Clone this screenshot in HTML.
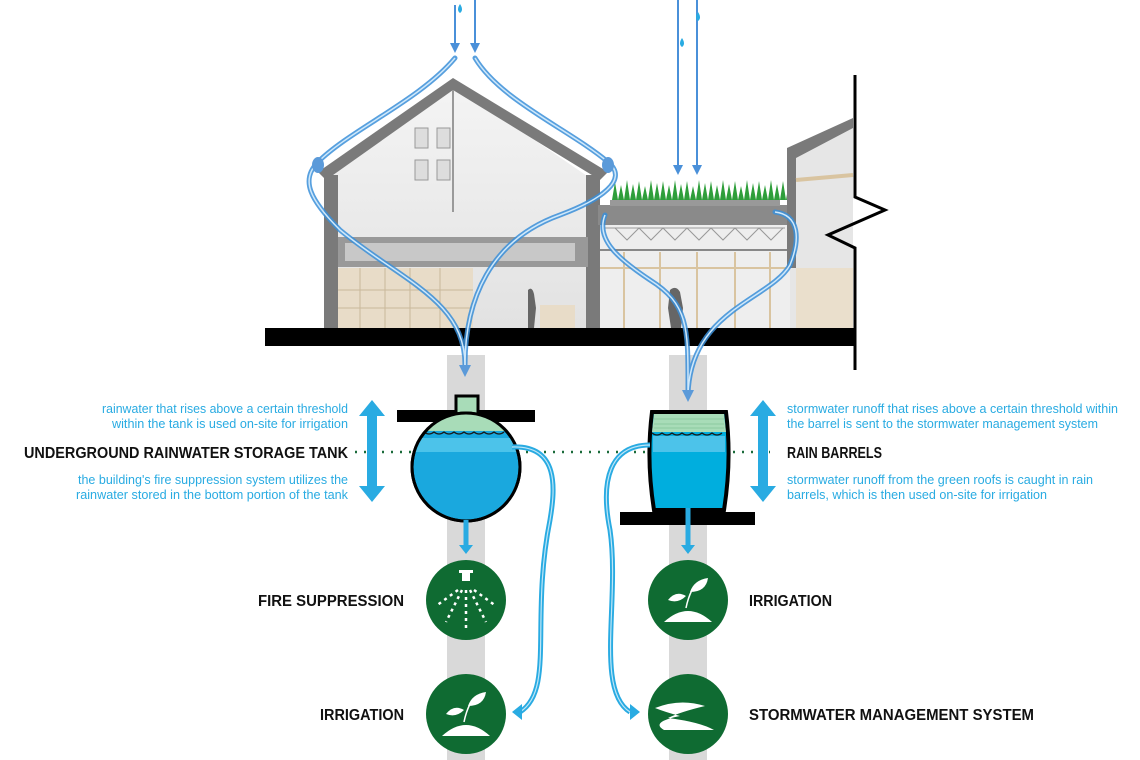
<!DOCTYPE html>
<html><head><meta charset="utf-8"><style>
html,body{margin:0;padding:0;background:#fff}
svg{display:block}
.s{font-family:"Liberation Sans",sans-serif;fill:#29abe2;font-size:13px}
.h{font-family:"Liberation Sans",sans-serif;fill:#111;font-size:16px;font-weight:bold}
</style></head><body>
<svg width="1140" height="760" viewBox="0 0 1140 760" xmlns="http://www.w3.org/2000/svg">
<defs>
<linearGradient id="bg" x1="0" y1="0" x2="0" y2="1"><stop offset="0" stop-color="#f4f4f4"/><stop offset="1" stop-color="#e2e2e2"/></linearGradient>
<marker id="ah" markerUnits="userSpaceOnUse" markerWidth="10" markerHeight="10" refX="5" refY="5" orient="auto"><path d="M0,0 L10,5 L0,10 Z" fill="#4a90d9"/></marker>
</defs>
<rect x="447" y="355" width="38" height="405" fill="#d9d9d9"/>
<rect x="669" y="355" width="38" height="405" fill="#d9d9d9"/>

<path d="M325,178 L453,84 L590,178 L590,328 L325,328 Z" fill="url(#bg)"/>
<path d="M318,172 L453,78 L608,172 L600,180 L453,90 L326,180 Z" fill="#7a7a7a"/>
<rect x="324" y="175" width="14" height="153" fill="#7a7a7a"/>
<rect x="586" y="175" width="14" height="153" fill="#7a7a7a"/>
<line x1="453" y1="90" x2="453" y2="212" stroke="#9a9a9a" stroke-width="2"/>
<g fill="#ddd" stroke="#999"><rect x="415" y="128" width="13" height="20"/><rect x="437" y="128" width="13" height="20"/><rect x="415" y="160" width="13" height="20"/><rect x="437" y="160" width="13" height="20"/></g>
<rect x="338" y="237" width="250" height="30" fill="#999"/>
<rect x="345" y="243" width="230" height="18" fill="#c8c8c8"/>
<rect x="338" y="268" width="135" height="60" fill="#e8dcc8"/>
<g stroke="#c9b89a" stroke-width="1"><line x1="360" y1="268" x2="360" y2="328"/><line x1="385" y1="268" x2="385" y2="328"/><line x1="410" y1="268" x2="410" y2="328"/><line x1="440" y1="268" x2="440" y2="328"/><line x1="338" y1="290" x2="473" y2="290"/><line x1="338" y1="308" x2="473" y2="308"/></g>
<path d="M528,290 q4,-4 6,4 l2,14 l-2,20 h-6 z" fill="#666"/>
<rect x="540" y="305" width="35" height="23" fill="#e8dcc8"/>

<rect x="600" y="220" width="190" height="108" fill="#eeeeee"/>
<rect x="598" y="205" width="192" height="20" fill="#8a8a8a"/>
<rect x="610" y="200" width="170" height="6" fill="#999"/>
<path d="M612,200 l3,-18 l3,18 l3,-15 l3,15 l3,-20 l3,20 l3,-16 l3,16 l3,-19 l3,19 l3,-14 l3,14 l3,-20 l3,20 l3,-17 l3,17 l3,-19 l3,19 l3,-15 l3,15 l3,-20 l3,20 l3,-16 l3,16 l3,-19 l3,19 l3,-14 l3,14 l3,-20 l3,20 l3,-17 l3,17 l3,-19 l3,19 l3,-15 l3,15 l3,-20 l3,20 l3,-16 l3,16 l3,-19 l3,19 l3,-14 l3,14 l3,-20 l3,20 l3,-17 l3,17 l3,-19 l3,19 l3,-15 l3,15 l3,-20 l3,20 l3,-16 l3,16 l3,-19 l3,19 l3,-18 l3,18 z" fill="#2e9e3a"/>
<path d="M605,228 L785,228 M615,228 l12,12 l12,-12 l12,12 l12,-12 l12,12 l12,-12 l12,12 l12,-12 l12,12 l12,-12 l12,12 l12,-12 l12,12 l12,-12" stroke="#999" fill="none"/>
<line x1="600" y1="250" x2="790" y2="250" stroke="#888" stroke-width="2"/>
<g stroke="#d9c4a0" stroke-width="2"><line x1="624" y1="252" x2="624" y2="328"/><line x1="660" y1="252" x2="660" y2="328"/><line x1="697" y1="252" x2="697" y2="328"/><line x1="735" y1="252" x2="735" y2="328"/><line x1="770" y1="252" x2="770" y2="328"/><line x1="600" y1="268" x2="790" y2="268"/></g>
<path d="M670,290 q6,-5 10,2 l3,16 l-2,20 h-10 l-3,-20 z" fill="#666"/>

<path d="M790,150 L853,128 L853,328 L790,328 Z" fill="#e6e6e6"/>
<path d="M787,148 L853,118 L853,128 L796,158 L796,268 L787,268 Z" fill="#7a7a7a"/>
<rect x="796" y="268" width="57" height="60" fill="#eadfcc"/>
<line x1="796" y1="180" x2="853" y2="175" stroke="#d9c4a0" stroke-width="4"/>

<rect x="265" y="328" width="590" height="18" fill="#000"/>
<path d="M855,75 L855,197 L885,210 L828,235 L855,248 L855,370" fill="none" stroke="#000" stroke-width="3"/>

<g stroke="#4a90d9" stroke-width="2" fill="none">
<line x1="455" y1="5" x2="455" y2="48" marker-end="url(#ah)"/>
<line x1="475" y1="0" x2="475" y2="48" marker-end="url(#ah)"/>
<line x1="678" y1="0" x2="678" y2="170" marker-end="url(#ah)"/>
<line x1="697" y1="0" x2="697" y2="170" marker-end="url(#ah)"/>
</g>
<g fill="#29abe2"><path d="M460,4 q4,6 0,9 q-4,-3 0,-9z"/><path d="M682,38 q4,6 0,9 q-4,-3 0,-9z"/><path d="M698,12 q4,6 0,9 q-4,-3 0,-9z"/></g>

<g stroke="#3a8fd9" stroke-width="5" fill="none" stroke-linecap="round" opacity="0.85">
<path d="M455,58 C420,100 350,130 318,162 C300,180 310,200 340,230 C400,280 465,300 465,365"/>
<path d="M475,58 C500,100 570,130 608,162 C630,180 600,200 560,215 C490,240 465,300 465,365"/>
<path d="M605,215 C595,240 620,260 650,280 C690,305 688,330 688,395"/>
<path d="M775,212 C800,215 800,240 790,265 C770,300 690,310 688,395"/>
</g>
<g stroke="#cfe8fa" stroke-width="1.5" fill="none">
<path d="M455,58 C420,100 350,130 318,162 C300,180 310,200 340,230 C400,280 465,300 465,365"/>
<path d="M475,58 C500,100 570,130 608,162 C630,180 600,200 560,215 C490,240 465,300 465,365"/>
<path d="M605,215 C595,240 620,260 650,280 C690,305 688,330 688,395"/>
<path d="M775,212 C800,215 800,240 790,265 C770,300 690,310 688,395"/>
</g>
<ellipse cx="318" cy="165" rx="6" ry="8" fill="#5b9ad9"/>
<ellipse cx="608" cy="165" rx="6" ry="8" fill="#5b9ad9"/>
<path d="M459,365 h12 l-6,12 z" fill="#5b9ad9"/>
<path d="M682,390 h12 l-6,12 z" fill="#5b9ad9"/>

<line x1="355" y1="452" x2="770" y2="452" stroke="#1a6b3a" stroke-width="2.5" stroke-dasharray="2,7"/>

<rect x="397" y="410" width="138" height="12" fill="#000"/>
<rect x="456" y="396" width="22" height="20" fill="#a8dcb8" stroke="#000" stroke-width="3"/>
<circle cx="466" cy="467" r="54" fill="#1aa8de" stroke="#000" stroke-width="3"/>
<path d="M426,431 A54,54 0 0 1 506,431 Z" fill="#a8dcb8"/>
<path d="M424,432 q5,4 10,0 q5,4 10,0 q5,4 10,0 q5,4 10,0 q5,4 10,0 q5,4 10,0 q5,4 10,0 q5,4 10,0" stroke="#1a1a1a" stroke-width="1.2" fill="none"/>
<path d="M413,452 L519,452 A54,54 0 0 0 512,438 L420,438 A54,54 0 0 0 413,452 Z" fill="#4cc3ea"/>
<circle cx="466" cy="467" r="54" fill="none" stroke="#000" stroke-width="3"/>

<rect x="620" y="512" width="135" height="13" fill="#000"/>
<path d="M652,412 L726,412 Q732,460 724,510 L654,510 Q646,460 652,412 Z" fill="#00aede" stroke="#000" stroke-width="4"/>
<path d="M654,414 L724,414 L726,432 L652,432 Z" fill="#a8dcb8"/>
<g stroke="#8ccaa0" stroke-width="1"><line x1="654" y1="419" x2="724" y2="419"/><line x1="654" y1="424" x2="724" y2="424"/><line x1="654" y1="428" x2="724" y2="428"/></g>
<path d="M652,433 q5,4 10,0 q5,4 10,0 q5,4 10,0 q5,4 10,0 q5,4 10,0 q5,4 10,0 q5,4 10,0" stroke="#1a1a1a" stroke-width="1.2" fill="none"/>
<rect x="653" y="436" width="72" height="16" fill="#4cc3ea"/>

<g stroke="#29abe2" stroke-width="5" fill="none">
<path d="M512,447 C560,445 555,490 550,520 C530,620 555,690 520,712"/>
<path d="M650,445 C610,445 600,480 610,530 C620,600 595,690 630,712"/>
<path d="M466,520 L466,545"/>
<path d="M688,508 L688,545"/>
</g>
<g stroke="#bfe6f7" stroke-width="1.2" fill="none">
<path d="M512,447 C560,445 555,490 550,520 C530,620 555,690 520,712"/>
<path d="M650,445 C610,445 600,480 610,530 C620,600 595,690 630,712"/>
</g>
<path d="M512,712 l10,-8 l0,16 z" fill="#29abe2"/>
<path d="M640,712 l-10,-8 l0,16 z" fill="#29abe2"/>
<path d="M459,545 h14 l-7,9 z" fill="#29abe2"/>
<path d="M681,545 h14 l-7,9 z" fill="#29abe2"/>

<g fill="#29abe2">
<path d="M372,400 L385,416 L377,416 L377,486 L385,486 L372,502 L359,486 L367,486 L367,416 L359,416 Z"/>
<path d="M763,400 L776,416 L768,416 L768,486 L776,486 L763,502 L750,486 L758,486 L758,416 L750,416 Z"/>
</g>

<g fill="#0f6b32">
<circle cx="466" cy="600" r="40"/><circle cx="466" cy="714" r="40"/>
<circle cx="688" cy="600" r="40"/><circle cx="688" cy="714" r="40"/>
</g>
<g fill="#fff"><rect x="459" y="570" width="14" height="3"/><rect x="462" y="573" width="8" height="8"/></g>
<g stroke="#fff" stroke-width="2.5" stroke-dasharray="3,4" fill="none">
<line x1="466" y1="590" x2="466" y2="630"/><line x1="462" y1="590" x2="446" y2="622"/><line x1="470" y1="590" x2="486" y2="622"/>
<line x1="458" y1="590" x2="436" y2="606"/><line x1="474" y1="590" x2="496" y2="606"/>
</g>
<g id="pl" fill="#fff">
<path d="M664,622 Q688,600 712,622 Z"/>
<path d="M686,608 q2,-10 6,-18" stroke="#fff" stroke-width="1.5" fill="none"/>
<path d="M690,592 q4,-12 18,-14 q-2,14 -18,14z"/>
<path d="M686,596 q-10,-6 -18,4 q10,4 18,-4z"/>
</g>
<use href="#pl" x="-222" y="114"/>
<path d="M655,708 Q680,698 705,706 Q680,712 668,718 Q700,722 714,730 L664,730 Q650,722 680,716 Q665,712 655,708 Z" fill="#fff"/>

<text class="s" x="102" y="413" textLength="246" lengthAdjust="spacingAndGlyphs">rainwater that rises above a certain threshold</text>
<text class="s" x="112" y="428" textLength="236" lengthAdjust="spacingAndGlyphs">within the tank is used on-site for irrigation</text>
<text class="h" x="24" y="458" textLength="324" lengthAdjust="spacingAndGlyphs">UNDERGROUND RAINWATER STORAGE TANK</text>
<text class="s" x="78" y="484" textLength="270" lengthAdjust="spacingAndGlyphs">the building's fire suppression system utilizes the</text>
<text class="s" x="76" y="499" textLength="272" lengthAdjust="spacingAndGlyphs">rainwater stored in the bottom portion of the tank</text>
<text class="s" x="787" y="413" textLength="331" lengthAdjust="spacingAndGlyphs">stormwater runoff that rises above a certain threshold within</text>
<text class="s" x="787" y="428" textLength="311" lengthAdjust="spacingAndGlyphs">the barrel is sent to the stormwater management system</text>
<text class="h" x="787" y="458" textLength="95" lengthAdjust="spacingAndGlyphs">RAIN BARRELS</text>
<text class="s" x="787" y="484" textLength="306" lengthAdjust="spacingAndGlyphs">stormwater runoff from the green roofs is caught in rain</text>
<text class="s" x="787" y="499" textLength="260" lengthAdjust="spacingAndGlyphs">barrels, which is then used on-site for irrigation</text>
<text class="h" x="258" y="606" textLength="146" lengthAdjust="spacingAndGlyphs">FIRE SUPPRESSION</text>
<text class="h" x="320" y="720" textLength="84" lengthAdjust="spacingAndGlyphs">IRRIGATION</text>
<text class="h" x="749" y="606" textLength="83" lengthAdjust="spacingAndGlyphs">IRRIGATION</text>
<text class="h" x="749" y="720" textLength="285" lengthAdjust="spacingAndGlyphs">STORMWATER MANAGEMENT SYSTEM</text>
</svg>
</body></html>
